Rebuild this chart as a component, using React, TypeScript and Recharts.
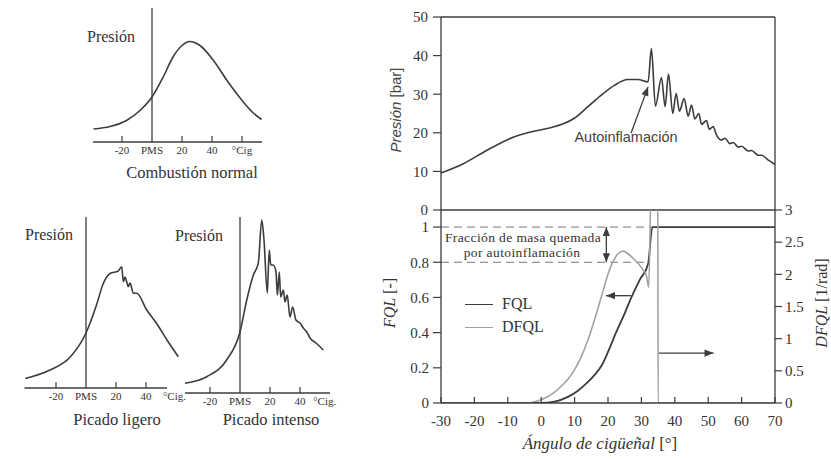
import React from 'react'
import { LineChart, Line, XAxis, YAxis, ReferenceLine, Legend } from 'recharts'

const INK = '#3c3c3c'
const LIGHT = '#a2a2a2'
const SERIF = '"Liberation Serif", "DejaVu Serif", serif'
const SANS = '"Liberation Sans", Arial, sans-serif'

// --- small sketches on the left (arbitrary pressure units) ---
const NORMAL_DEG = [-39, -28, -17, -8, 0, 7.5, 14, 20, 25, 32, 41, 50, 59, 67.5, 73]
const NORMAL_P = [13, 15.5, 21.5, 31.5, 45, 65, 85, 96.5, 100.5, 96.5, 81.5, 61.5, 43.5, 29, 22.5]
const NORMAL_TICKS = [-20, 0, 20, 40, 60]

const LIGERO_DEG = [-40.5, -24, -10.5, 0, 7, 11.5, 16, 21.5, 23.8, 24.9, 26, 27.1, 28.2, 29.3, 30.5, 31.5, 33.8, 40.5, 47, 54, 61.5]
const LIGERO_P = [9.5, 18, 31, 55, 83, 104.5, 114.5, 117, 121.3, 106.3, 111, 106.3, 101.3, 105, 99.7, 94.7, 94.7, 78, 64.7, 48, 31.3]
const LIGERO_TICKS = [-20, 0, 20, 40, 59]

const INTENSO_DEG = [-36.7, -22.2, -8.9, 0, 4.5, 8.9, 12.2, 14.5, 16, 18.2, 19.5, 20.5, 22.2, 24, 24.9, 26.2, 27.1, 28.9, 30, 31.5, 33.3, 35.1, 37.3, 40, 42.2, 44.5, 46.7, 50.7, 55.5]
const INTENSO_P = [9.7, 16.3, 33, 61, 93, 118, 130, 173, 153, 100, 143, 128, 128, 121, 98, 121, 96, 103, 91, 98, 76, 86, 73, 70, 65, 61, 55, 50, 43]
const INTENSO_TICKS = [-20, 0, 20, 40, 56.5]

// --- measured cycle on the right ---
const ANGLE_TICKS = [-30, -20, -10, 0, 10, 20, 30, 40, 50, 60, 70]
const PRESSURE_TICKS = [0, 10, 20, 30, 40, 50]
const FQL_TICKS = [0, 0.2, 0.4, 0.6, 0.8, 1]
const DFQL_TICKS = [0, 0.5, 1, 1.5, 2, 2.5, 3]
const SERIES_ORDER = ['FQL', 'DFQL']

const PRESSURE_DEG = [-30, -23.3, -16.2, -8.2, -3.2, 1.8, 6.8, 9.8, 13.9, 17.9, 21.9, 25.9, 29, 32, 33, 34.2, 36, 37.1, 38.1, 39.4, 40.4, 41.4, 42.8, 44, 45, 46, 47.2, 48, 49.5, 50.3, 51.5, 52.4, 54, 55, 56.5, 57.5, 59, 60, 62, 63, 65, 66, 68, 70]
const PRESSURE_BAR = [9.6, 12, 15.5, 18.9, 20.2, 21.1, 22.4, 23.7, 26.7, 29.7, 32.3, 33.8, 33.8, 33.2, 41.8, 26.9, 34.3, 26.8, 35.2, 25, 30.2, 25.6, 28.9, 24.3, 27.2, 23.6, 25, 22.2, 23.2, 20.9, 21.6, 19.6, 18.1, 18.6, 17.2, 17.5, 16.3, 16.5, 15.3, 15.4, 14.2, 14.2, 12.9, 11.8]

const FQL_DEG = [-30, 0, 4, 8, 11, 14, 16, 18, 20, 22.4, 25, 27, 29.5, 32, 33.3, 70]
const FQL_VAL = [0, 0, 0.008, 0.035, 0.07, 0.12, 0.16, 0.21, 0.29, 0.4, 0.51, 0.6, 0.7, 0.79, 1, 1]

const DFQL_DEG = [-30, -4.5, -2, 0, 2, 4, 6, 8, 10, 12, 14, 16, 18, 20, 21.5, 23, 24.5, 26, 27.5, 29, 30.5, 31.5, 32.2, 33, 34.9, 35, 70]
const DFQL_VAL = [0, 0, 0.02, 0.05, 0.1, 0.17, 0.26, 0.37, 0.52, 0.72, 0.98, 1.3, 1.65, 2.0, 2.2, 2.32, 2.36, 2.32, 2.25, 2.17, 2.07, 1.98, 1.8, 3.6, 3.6, 0, 0]

const zip = (xs: number[], ys: number[]) => xs.map((x, i) => ({ x, v: ys[i] }))

function Arrow(props: any) {
  const { x1, y1, x2, y2, both } = props
  const head = (tx: number, ty: number, fx: number, fy: number) => {
    const a = Math.atan2(ty - fy, tx - fx)
    const L = 9
    const W = 3.6
    const bx = tx - L * Math.cos(a)
    const by = ty - L * Math.sin(a)
    const px = -Math.sin(a) * W
    const py = Math.cos(a) * W
    return `${tx},${ty} ${bx + px},${by + py} ${bx - px},${by - py}`
  }
  return (
    <g>
      <line x1={x1} y1={y1} x2={x2} y2={y2} stroke={INK} strokeWidth={1.3} />
      <polygon points={head(x2, y2, x1, y1)} fill={INK} />
      {both && <polygon points={head(x1, y1, x2, y2)} fill={INK} />}
    </g>
  )
}

function Text({ x, y, children, size = 16, font = SERIF, rotate = 0, anchor = 'center', style = {} }: any) {
  const tx = anchor === 'left' ? '0' : '-50%'
  return (
    <div
      style={{
        position: 'absolute',
        left: x,
        top: y,
        transform: `translate(${tx}, -50%) rotate(${rotate}deg)`,
        fontFamily: font,
        fontSize: size,
        color: '#333',
        lineHeight: 1,
        whiteSpace: 'nowrap',
        ...style,
      }}
    >
      {children}
    </div>
  )
}

function Sketch({ box, plot, xDomain, yMax, deg, p, ticks, marks, unit, axisFrom, axisTo, pmsTop }: any) {
  const data = zip(deg, p)
  const margin = {
    left: plot.left - box.left,
    right: box.left + box.width - plot.right,
    top: plot.top - box.top,
    bottom: box.top + box.height - plot.bottom - 20,
  }
  const last = ticks[ticks.length - 1]
  const Tick = ({ x, y, payload }: any) => {
    const v = payload.value
    const label = v === 0 ? 'PMS' : v === last ? unit : String(v)
    return (
      <g>
        {marks.includes(v) && <line x1={x} x2={x} y1={y - 6} y2={y} stroke={INK} strokeWidth={1.2} />}
        <text x={x} y={y + 12} textAnchor="middle" fontSize={11} fontFamily={SERIF} fill="#333">
          {label}
        </text>
      </g>
    )
  }
  return (
    <div style={{ position: 'absolute', left: box.left, top: box.top }}>
      <LineChart width={box.width} height={box.height} margin={margin}>
        <XAxis
          type="number"
          dataKey="x"
          domain={xDomain}
          ticks={ticks}
          height={20}
          axisLine={false}
          tickLine={false}
          tickSize={0}
          tickMargin={0}
          tick={<Tick />}
          interval={0}
        />
        <YAxis type="number" domain={[0, yMax]} hide />
        <ReferenceLine segment={[{ x: axisFrom, y: 0 }, { x: axisTo, y: 0 }]} stroke={INK} strokeWidth={1.3} />
        <ReferenceLine segment={[{ x: 0, y: 0 }, { x: 0, y: pmsTop }]} stroke={INK} strokeWidth={1.3} />
        <Line data={data} dataKey="v" type="monotone" dot={false} stroke={INK} strokeWidth={1.6} isAnimationActive={false} />
      </LineChart>
    </div>
  )
}

const tickStyle = { fontSize: 15, fill: '#333', fontFamily: SERIF }

function PressureChart() {
  const data = zip(PRESSURE_DEG, PRESSURE_BAR)
  return (
    <div style={{ position: 'absolute', left: 380, top: 0 }}>
      <LineChart width={451} height={230} margin={{ top: 17, right: 56, bottom: 20, left: 11 }}>
        <XAxis type="number" dataKey="x" domain={[-30, 70]} hide />
        <YAxis
          type="number"
          domain={[0, 50]}
          ticks={PRESSURE_TICKS}
          width={50}
          allowDataOverflow
          axisLine={{ stroke: INK, strokeWidth: 1.3 }}
          tickLine={{ stroke: INK, strokeWidth: 1.2 }}
          tickSize={8}
          tickMargin={5}
          tick={tickStyle}
        />
        <ReferenceLine y={50} stroke={INK} strokeWidth={1.3} />
        <ReferenceLine x={70} stroke={INK} strokeWidth={1.3} />
        <ReferenceLine y={0} stroke={INK} strokeWidth={1.3} />
        <ReferenceLine segment={[{ x: 26.9, y: 19.9 }, { x: 32, y: 31.9 }]} shape={(s: any) => <Arrow {...s} />} />
        <Line data={data} dataKey="v" type="monotone" dot={false} stroke={INK} strokeWidth={1.6} isAnimationActive={false} />
      </LineChart>
    </div>
  )
}

function BurnChart() {
  const fql = zip(FQL_DEG, FQL_VAL)
  const dfql = zip(DFQL_DEG, DFQL_VAL)
  return (
    <div style={{ position: 'absolute', left: 380, top: 200 }}>
      <LineChart width={451} height={259} margin={{ top: 10, right: 11, bottom: 26, left: 11 }}>
        <XAxis
          type="number"
          dataKey="x"
          domain={[-30, 70]}
          ticks={ANGLE_TICKS}
          interval={0}
          height={30}
          axisLine={{ stroke: INK, strokeWidth: 1.3 }}
          tickLine={{ stroke: INK, strokeWidth: 1.2 }}
          tickSize={-6}
          tickMargin={18}
          tick={tickStyle}
        />
        <YAxis
          yAxisId="l"
          type="number"
          domain={[0, 1.097]}
          allowDataOverflow
          ticks={FQL_TICKS}
          width={50}
          axisLine={{ stroke: INK, strokeWidth: 1.3 }}
          tickLine={{ stroke: INK, strokeWidth: 1.2 }}
          tickSize={8}
          tickMargin={4}
          tick={tickStyle}
        />
        <YAxis
          yAxisId="r"
          orientation="right"
          type="number"
          domain={[0, 3]}
          allowDataOverflow
          ticks={DFQL_TICKS}
          width={45}
          axisLine={{ stroke: INK, strokeWidth: 1.3 }}
          tickLine={{ stroke: INK, strokeWidth: 1.2 }}
          tickSize={7}
          tickMargin={3}
          tick={tickStyle}
        />
        <ReferenceLine yAxisId="l" segment={[{ x: -30, y: 1 }, { x: 33.3, y: 1 }]} stroke="#777" strokeDasharray="8 5" />
        <ReferenceLine yAxisId="l" segment={[{ x: -30, y: 0.8 }, { x: 31, y: 0.8 }]} stroke="#777" strokeDasharray="8 5" />
        <ReferenceLine yAxisId="l" segment={[{ x: 19.5, y: 0.8 }, { x: 19.5, y: 1 }]} shape={(s: any) => <Arrow {...s} both />} />
        <ReferenceLine yAxisId="l" segment={[{ x: 26.9, y: 0.61 }, { x: 19.4, y: 0.61 }]} shape={(s: any) => <Arrow {...s} />} />
        <ReferenceLine yAxisId="l" segment={[{ x: 35.1, y: 0.284 }, { x: 51.6, y: 0.284 }]} shape={(s: any) => <Arrow {...s} />} />
        <Line yAxisId="l" name="FQL" data={fql} dataKey="v" type="monotone" dot={false} stroke={INK} strokeWidth={1.8} isAnimationActive={false} />
        <Line yAxisId="r" name="DFQL" data={dfql} dataKey="v" type="monotone" dot={false} stroke={LIGHT} strokeWidth={1.6} isAnimationActive={false} />
        <Legend
          layout="horizontal"
          verticalAlign="middle"
          align="center"
          wrapperStyle={{ left: 85, top: 92.5, width: 'auto' }}
          content={({ payload }: any) => (
            <div>
              {[...(payload || [])]
                .sort((a: any, b: any) => SERIES_ORDER.indexOf(a.value) - SERIES_ORDER.indexOf(b.value))
                .map((item: any) => (
                  <div key={item.value} style={{ display: 'flex', alignItems: 'center', height: 23 }}>
                    <span style={{ width: 28, borderTop: `1.5px solid ${item.color}`, marginRight: 9 }} />
                    <span style={{ fontFamily: SERIF, fontSize: 16, color: '#333' }}>{item.value}</span>
                  </div>
                ))}
            </div>
          )}
        />
      </LineChart>
    </div>
  )
}

export default function App() {
  return (
    <div style={{ position: 'absolute', left: 0, top: 0, width: 831, height: 459, background: '#fff', overflow: 'hidden' }}>
      <Sketch
        box={{ left: 60, top: 0, width: 230, height: 180 }}
        plot={{ left: 92, right: 263, top: 2, bottom: 142 }}
        xDomain={[-40, 74]}
        yMax={140}
        deg={NORMAL_DEG}
        p={NORMAL_P}
        ticks={NORMAL_TICKS}
        marks={[-20, 20, 40, 60]}
        unit="°Cig"
        axisFrom={-39.3}
        axisTo={73.3}
        pmsTop={134}
      />
      <Sketch
        box={{ left: 10, top: 200, width: 180, height: 220 }}
        plot={{ left: 24.5, right: 179, top: 213, bottom: 388 }}
        xDomain={[-41, 62]}
        yMax={175}
        deg={LIGERO_DEG}
        p={LIGERO_P}
        ticks={LIGERO_TICKS}
        marks={[-20, 20, 40]}
        unit="°Cig."
        axisFrom={-41}
        axisTo={54}
        pmsTop={171}
      />
      <Sketch
        box={{ left: 175, top: 200, width: 165, height: 220 }}
        plot={{ left: 184.5, right: 330, top: 213, bottom: 393 }}
        xDomain={[-37, 60]}
        yMax={180}
        deg={INTENSO_DEG}
        p={INTENSO_P}
        ticks={INTENSO_TICKS}
        marks={[-20, 20, 40]}
        unit="°Cig."
        axisFrom={-36.7}
        axisTo={60}
        pmsTop={176}
      />
      <Text x={87} y={37} anchor="left">Presión</Text>
      <Text x={192} y={173} size={16.5}>Combustión normal</Text>
      <Text x={25} y={235} anchor="left">Presión</Text>
      <Text x={117} y={420} size={16.5}>Picado ligero</Text>
      <Text x={175} y={236} anchor="left">Presión</Text>
      <Text x={271} y={420} size={16.5}>Picado intenso</Text>

      <PressureChart />
      <BurnChart />

      <Text x={395} y={110} rotate={-90} size={15} font={SANS} style={{ color: '#444' }}>
        <i>Presión</i> [bar]
      </Text>
      <Text x={390} y={303} rotate={-90} size={16}>
        <i>FQL</i> [-]
      </Text>
      <Text x={822} y={303} rotate={-90} size={16}>
        <i>DFQL</i> [1/rad]
      </Text>
      <Text x={600} y={443} size={17}>
        <i>Ángulo de cigüeñal</i> [°]
      </Text>
      <Text x={626} y={137} size={14.5} font={SANS} style={{ color: '#444' }}>
        Autoinflamación
      </Text>
      <Text x={523} y={238} size={13.5} style={{ letterSpacing: 0.4 }}>
        Fracción de masa quemada
      </Text>
      <Text x={522} y={253} size={13.5} style={{ letterSpacing: 0.4 }}>
        por autoinflamación
      </Text>
    </div>
  )
}
